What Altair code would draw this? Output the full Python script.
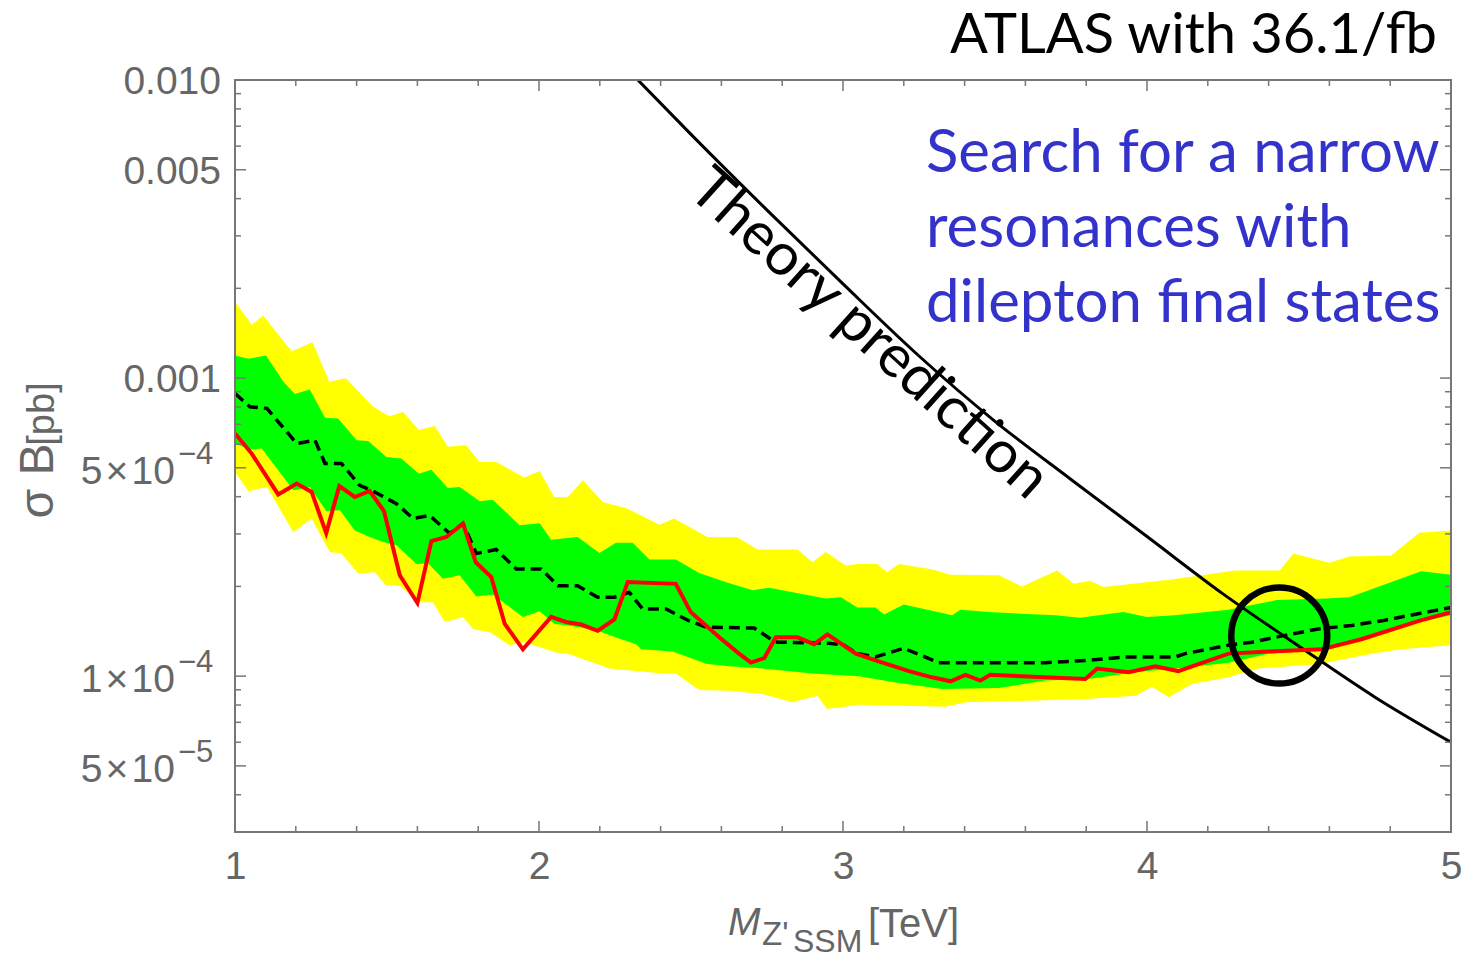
import altair as alt
import pandas as pd

W, H = 1216, 752
Y_MIN, Y_MAX = 3e-5, 1e-2
X_MIN, X_MAX = 1, 5

# ---- data (TeV, pb) ----
yellow_upper = [(1.0, 1.805e-3), (1.055, 1.51e-3), (1.093, 1.62e-3), (1.186, 1.23e-3), (1.255, 1.32e-3),
                (1.31, 9.72e-4), (1.365, 9.98e-4), (1.454, 8.01e-4), (1.507, 7.45e-4), (1.553, 7.70e-4),
                (1.605, 6.69e-4), (1.657, 6.90e-4), (1.70, 5.88e-4), (1.76, 5.95e-4), (1.805, 5.23e-4),
                (1.859, 5.23e-4), (1.952, 4.64e-4), (2.002, 4.88e-4), (2.05, 3.99e-4), (2.095, 3.99e-4),
                (2.144, 4.54e-4), (2.21, 3.84e-4), (2.29, 3.65e-4), (2.396, 3.22e-4), (2.445, 3.38e-4),
                (2.554, 2.93e-4), (2.65, 2.93e-4), (2.719, 2.66e-4), (2.85, 2.66e-4), (2.90, 2.41e-4),
                (2.943, 2.61e-4), (3.009, 2.35e-4), (3.047, 2.38e-4), (3.113, 2.38e-4), (3.145, 2.23e-4),
                (3.184, 2.38e-4), (3.288, 2.29e-4), (3.354, 2.19e-4), (3.512, 2.18e-4), (3.589, 2.00e-4),
                (3.704, 2.26e-4), (3.759, 2.04e-4), (3.813, 2.09e-4), (3.857, 1.99e-4), (4.081, 2.11e-4),
                (4.29, 2.26e-4), (4.437, 2.26e-4), (4.481, 2.58e-4), (4.60, 2.40e-4), (4.666, 2.52e-4),
                (4.803, 2.54e-4), (4.896, 3.03e-4), (5.0, 3.08e-4)]

green_upper = [(1.0, 1.19e-3), (1.044, 1.16e-3), (1.102, 1.19e-3), (1.159, 9.72e-4), (1.197, 8.84e-4),
               (1.246, 9.16e-4), (1.296, 7.36e-4), (1.339, 7.32e-4), (1.40, 6.19e-4), (1.438, 6.15e-4),
               (1.498, 5.44e-4), (1.547, 5.37e-4), (1.605, 4.78e-4), (1.646, 4.93e-4), (1.70, 4.28e-4),
               (1.739, 4.31e-4), (1.805, 3.86e-4), (1.848, 3.91e-4), (1.936, 3.21e-4), (2.002, 3.26e-4),
               (2.04, 2.87e-4), (2.127, 2.93e-4), (2.199, 2.59e-4), (2.253, 2.80e-4), (2.308, 2.80e-4),
               (2.363, 2.46e-4), (2.45, 2.46e-4), (2.527, 2.22e-4), (2.626, 2.05e-4), (2.703, 1.94e-4),
               (2.757, 1.98e-4), (2.943, 1.82e-4), (2.993, 1.84e-4), (3.047, 1.70e-4), (3.107, 1.70e-4),
               (3.135, 1.61e-4), (3.20, 1.74e-4), (3.359, 1.60e-4), (3.386, 1.67e-4), (3.479, 1.64e-4),
               (3.698, 1.60e-4), (3.78, 1.57e-4), (3.922, 1.64e-4), (3.999, 1.58e-4), (4.092, 1.60e-4),
               (4.268, 1.67e-4), (4.427, 1.80e-4), (4.591, 1.82e-4), (4.666, 1.84e-4), (4.902, 2.25e-4),
               (5.0, 2.19e-4)]

green_lower = [(1.0, 6.03e-4), (1.049, 5.76e-4), (1.088, 5.80e-4), (1.142, 4.91e-4), (1.192, 4.20e-4),
               (1.246, 4.31e-4), (1.30, 3.58e-4), (1.345, 3.60e-4), (1.394, 3.08e-4), (1.443, 2.93e-4),
               (1.487, 2.82e-4), (1.531, 2.75e-4), (1.597, 2.38e-4), (1.635, 2.39e-4), (1.684, 2.12e-4),
               (1.739, 2.18e-4), (1.794, 1.85e-4), (1.848, 1.88e-4), (1.947, 1.58e-4), (2.002, 1.65e-4),
               (2.05, 1.50e-4), (2.133, 1.46e-4), (2.193, 1.42e-4), (2.27, 1.33e-4), (2.32, 1.28e-4),
               (2.336, 1.23e-4), (2.44, 1.21e-4), (2.55, 1.10e-4), (2.626, 1.08e-4), (2.735, 1.06e-4),
               (2.90, 1.02e-4), (3.053, 1.00e-4), (3.173, 9.53e-5), (3.326, 9.06e-5), (3.512, 9.13e-5),
               (3.666, 9.66e-5), (3.808, 9.79e-5), (3.962, 1.03e-4), (4.126, 1.07e-4), (4.268, 1.11e-4),
               (4.399, 1.19e-4), (4.563, 1.23e-4), (4.727, 1.35e-4), (4.892, 1.52e-4), (5.0, 1.60e-4)]

yellow_lower = [(1.0, 4.84e-4), (1.044, 4.17e-4), (1.105, 4.31e-4), (1.192, 3.04e-4), (1.252, 3.38e-4),
                (1.312, 2.61e-4), (1.35, 2.58e-4), (1.405, 2.21e-4), (1.46, 2.23e-4), (1.498, 2.01e-4),
                (1.542, 2.01e-4), (1.602, 1.77e-4), (1.651, 1.77e-4), (1.69, 1.52e-4), (1.75, 1.58e-4),
                (1.783, 1.44e-4), (1.84, 1.40e-4), (1.903, 1.27e-4), (1.952, 1.30e-4), (2.056, 1.20e-4),
                (2.095, 1.19e-4), (2.232, 1.06e-4), (2.275, 1.05e-4), (2.407, 1.02e-4), (2.45, 1.02e-4),
                (2.527, 8.99e-5), (2.626, 8.94e-5), (2.735, 8.72e-5), (2.833, 8.17e-5), (2.915, 8.60e-5),
                (2.948, 7.76e-5), (3.053, 8.02e-5), (3.337, 7.90e-5), (3.403, 8.17e-5), (3.611, 8.27e-5),
                (3.797, 8.38e-5), (3.962, 8.60e-5), (4.016, 9.22e-5), (4.071, 8.49e-5), (4.148, 9.41e-5),
                (4.268, 9.91e-5), (4.366, 1.06e-4), (4.574, 1.10e-4), (4.738, 1.19e-4), (4.836, 1.23e-4),
                (5.0, 1.27e-4)]

expected = [(1.0, 8.88e-4), (1.049, 8.01e-4), (1.105, 7.91e-4), (1.203, 6.03e-4), (1.263, 6.19e-4),
            (1.296, 5.17e-4), (1.35, 5.17e-4), (1.41, 4.37e-4), (1.449, 4.20e-4), (1.531, 3.79e-4),
            (1.586, 3.38e-4), (1.64, 3.46e-4), (1.706, 3.01e-4), (1.75, 3.25e-4), (1.794, 2.58e-4),
            (1.859, 2.66e-4), (1.925, 2.29e-4), (2.007, 2.29e-4), (2.062, 2.01e-4), (2.127, 2.01e-4),
            (2.193, 1.84e-4), (2.248, 1.84e-4), (2.297, 1.91e-4), (2.341, 1.68e-4), (2.418, 1.68e-4),
            (2.489, 1.54e-4), (2.55, 1.46e-4), (2.708, 1.45e-4), (2.768, 1.32e-4), (2.785, 1.30e-4),
            (2.954, 1.29e-4), (3.003, 1.27e-4), (3.047, 1.19e-4), (3.107, 1.16e-4), (3.20, 1.24e-4),
            (3.315, 1.11e-4), (3.666, 1.11e-4), (3.808, 1.13e-4), (3.929, 1.16e-4), (4.093, 1.16e-4),
            (4.126, 1.19e-4), (4.268, 1.27e-4), (4.344, 1.30e-4), (4.454, 1.37e-4), (4.563, 1.44e-4),
            (4.673, 1.48e-4), (4.782, 1.54e-4), (4.892, 1.62e-4), (5.0, 1.70e-4)]

observed = [(1.0, 6.52e-4), (1.055, 5.58e-4), (1.142, 4.07e-4), (1.203, 4.43e-4), (1.252, 4.15e-4),
            (1.30, 3.02e-4), (1.343, 4.34e-4), (1.394, 3.99e-4), (1.443, 4.18e-4), (1.49, 3.58e-4),
            (1.542, 2.18e-4), (1.60, 1.76e-4), (1.646, 2.84e-4), (1.695, 2.93e-4), (1.75, 3.25e-4),
            (1.792, 2.41e-4), (1.843, 2.15e-4), (1.887, 1.50e-4), (1.947, 1.23e-4), (2.04, 1.58e-4),
            (2.089, 1.52e-4), (2.139, 1.49e-4), (2.193, 1.42e-4), (2.248, 1.55e-4), (2.292, 2.07e-4),
            (2.45, 2.04e-4), (2.499, 1.64e-4), (2.593, 1.35e-4), (2.658, 1.19e-4), (2.697, 1.11e-4),
            (2.741, 1.15e-4), (2.779, 1.35e-4), (2.85, 1.35e-4), (2.905, 1.28e-4), (2.949, 1.38e-4),
            (3.042, 1.19e-4), (3.107, 1.13e-4), (3.217, 1.04e-4), (3.293, 9.91e-5), (3.354, 9.61e-5),
            (3.403, 1.01e-4), (3.452, 9.66e-5), (3.484, 1.01e-4), (3.797, 9.79e-5), (3.836, 1.06e-4),
            (3.94, 1.03e-4), (4.027, 1.08e-4), (4.103, 1.04e-4), (4.268, 1.19e-4), (4.399, 1.21e-4),
            (4.574, 1.23e-4), (4.705, 1.33e-4), (4.892, 1.53e-4), (5.0, 1.64e-4)]

theory = [(2.30, 1.063e-2), (2.5, 6.57e-3), (2.75, 3.66e-3), (3.0, 2.07e-3), (3.25, 1.186e-3),
          (3.5, 7.16e-4), (3.75, 4.57e-4), (4.0, 2.94e-4), (4.25, 1.888e-4), (4.5, 1.26e-4),
          (4.75, 8.5e-5), (5.0, 6.0e-5)]

crossing = [(4.435, 1.368e-4)]

x_major_ticks = [1, 2, 3, 4, 5]
x_minor_ticks = [1.2, 1.4, 1.6, 1.8, 2.2, 2.4, 2.6, 2.8, 3.2, 3.4, 3.6, 3.8, 4.2, 4.4, 4.6, 4.8]
y_major_ticks = [1e-2, 5e-3, 1e-3, 5e-4, 1e-4, 5e-5]
y_minor_ticks = [9e-3, 8e-3, 7e-3, 6e-3, 4e-3, 3e-3, 2e-3,
                 9e-4, 8e-4, 7e-4, 6e-4, 4e-4, 3e-4, 2e-4,
                 9e-5, 8e-5, 7e-5, 6e-5, 4e-5]
y_plain_labels = [(1e-2, "0.010"), (5e-3, "0.005"), (1e-3, "0.001")]
y_sci_labels = [(5e-4, "5\u200a×\u200a10", "\u22124"), (1e-4, "1\u200a×\u200a10", "\u22124"),
                (5e-5, "5\u200a×\u200a10", "\u22125")]

FONT = "Liberation Sans"
LABEL = "#666666"
FRAME = "#777777"
TICK_FS = 39


def pts(pairs):
    return pd.DataFrame(pairs, columns=["x", "y"])


xs = alt.Scale(domain=[X_MIN, X_MAX], nice=False, zero=False)
ys = alt.Scale(type="log", domain=[Y_MIN, Y_MAX], nice=False)
x_axis = alt.Axis(values=x_major_ticks, ticks=False, domain=False, grid=False, title=None,
                  labelFontSize=TICK_FS, labelColor=LABEL, labelFont=FONT, labelPadding=15,
                  labelFlush=False, labelOverlap=False, format="d")


def X(f="x"):
    return alt.X(f"{f}:Q", scale=xs, axis=x_axis)


def Y(f="y"):
    return alt.Y(f"{f}:Q", scale=ys, axis=None)


def band(pairs, color):
    return alt.Chart(pts(pairs)).mark_area(color=color, opacity=1, clip=True).encode(
        x=X(), y=Y(), y2=alt.datum(Y_MIN))


layers = [
    band(yellow_upper, "#FFFF00"),
    band(green_upper, "#00FF00"),
    band(green_lower, "#FFFF00"),
    band(yellow_lower, "#FFFFFF"),
    alt.Chart(pts(theory)).mark_line(color="black", strokeWidth=3, interpolate="monotone", clip=True)
       .encode(x=X(), y=Y()),
    alt.Chart(pts(expected)).mark_line(color="black", strokeWidth=3.5, strokeDash=[11, 6], clip=True)
       .encode(x=X(), y=Y()),
    alt.Chart(pts(observed)).mark_line(color="#FF0000", strokeWidth=4, clip=True)
       .encode(x=X(), y=Y()),
    alt.Chart(pts(crossing)).mark_point(shape="circle", size=9216, filled=False, stroke="black",
                                        strokeWidth=6.5, opacity=1).encode(x=X(), y=Y()),
]

# frame
layers.append(alt.Chart(pd.DataFrame({"k": [0]})).mark_rect(fillOpacity=0, stroke=FRAME, strokeWidth=2)
              .encode(x=alt.value(0), x2=alt.value(W), y=alt.value(0), y2=alt.value(H)))

# ticks (inward, all four sides)
ymaj = pd.DataFrame({"v": y_major_ticks})
ymin = pd.DataFrame({"v": y_minor_ticks})
xmaj = pd.DataFrame({"v": x_major_ticks})
xmin = pd.DataFrame({"v": x_minor_ticks})
for d, L in ((ymaj, 11), (ymin, 6)):
    layers.append(alt.Chart(d).mark_rule(color=FRAME, strokeWidth=1.5)
                  .encode(y=Y("v"), x=alt.value(0), x2=alt.value(L)))
    layers.append(alt.Chart(d).mark_rule(color=FRAME, strokeWidth=1.5)
                  .encode(y=Y("v"), x=alt.value(W - L), x2=alt.value(W)))
for d, L in ((xmaj, 11), (xmin, 6)):
    layers.append(alt.Chart(d).mark_rule(color=FRAME, strokeWidth=1.5)
                  .encode(x=X("v"), y=alt.value(H - L), y2=alt.value(H)))
    layers.append(alt.Chart(d).mark_rule(color=FRAME, strokeWidth=1.5)
                  .encode(x=X("v"), y=alt.value(0), y2=alt.value(L)))

# y tick labels
plain = pd.DataFrame(y_plain_labels, columns=["v", "t"])
sci = pd.DataFrame(y_sci_labels, columns=["v", "m", "e"])
layers.append(alt.Chart(plain).mark_text(align="right", baseline="middle", fontSize=TICK_FS, font=FONT,
                                         color=LABEL, dy=2)
              .encode(y=Y("v"), x=alt.value(-14), text="t:N"))
layers.append(alt.Chart(sci).mark_text(align="right", baseline="middle", fontSize=TICK_FS, font=FONT,
                                       color=LABEL, dy=4)
              .encode(y=Y("v"), x=alt.value(-60), text="m:N"))
layers.append(alt.Chart(sci).mark_text(align="left", baseline="middle", fontSize=31, font=FONT,
                                       color=LABEL, dy=-13)
              .encode(y=Y("v"), x=alt.value(-57), text="e:N"))

one = pd.DataFrame({"k": [0]})


def txt(text, x, y, **kw):
    return alt.Chart(one).mark_text(**kw).encode(x=alt.value(x), y=alt.value(y), text=alt.value(text))


# y axis title
layers.append(txt("σ B", -182, 401, angle=270, align="center", baseline="alphabetic",
                  fontSize=48, font=FONT, color=LABEL))
layers.append(txt("[pb]", -181, 334, angle=270, align="center", baseline="alphabetic",
                  fontSize=38, font=FONT, color=LABEL))

# x axis title
layers.append(txt("M", 493, 855, align="left", baseline="alphabetic", fontSize=39, font=FONT,
                  fontStyle="italic", color=LABEL))
layers.append(txt("Z'", 527, 865, align="left", baseline="alphabetic", fontSize=33, font=FONT, color=LABEL))
layers.append(txt("SSM", 558, 872, align="left", baseline="alphabetic", fontSize=32, font=FONT, color=LABEL))
layers.append(txt("[TeV]", 633, 857, align="left", baseline="alphabetic", fontSize=40, font=FONT, color=LABEL))

# annotations
layers.append(txt("ATLAS with 36.1/fb", 1202, -27, align="right", baseline="alphabetic",
                  fontSize=56, font="Lato", color="black"))
BLUE = "#3333CC"
for i, line in enumerate(["Search for a narrow", "resonances with", "dilepton final states"]):
    layers.append(txt(line, 691, 92 + 75 * i, align="left", baseline="alphabetic",
                      fontSize=60, font="Lato", color=BLUE))
layers.append(txt("Theory prediction", 634, 254, angle=42, align="center", baseline="middle",
                  fontSize=59, font="Lato", color="black"))

chart = alt.layer(*layers).properties(
    width=W, height=H,
    autosize=alt.AutoSizeParams(type="none"),
    padding={"left": 227, "top": 72, "right": 11, "bottom": 125},
).configure_view(stroke=None)

chart.save("out.html", embed_options={"renderer": "svg", "actions": False})
